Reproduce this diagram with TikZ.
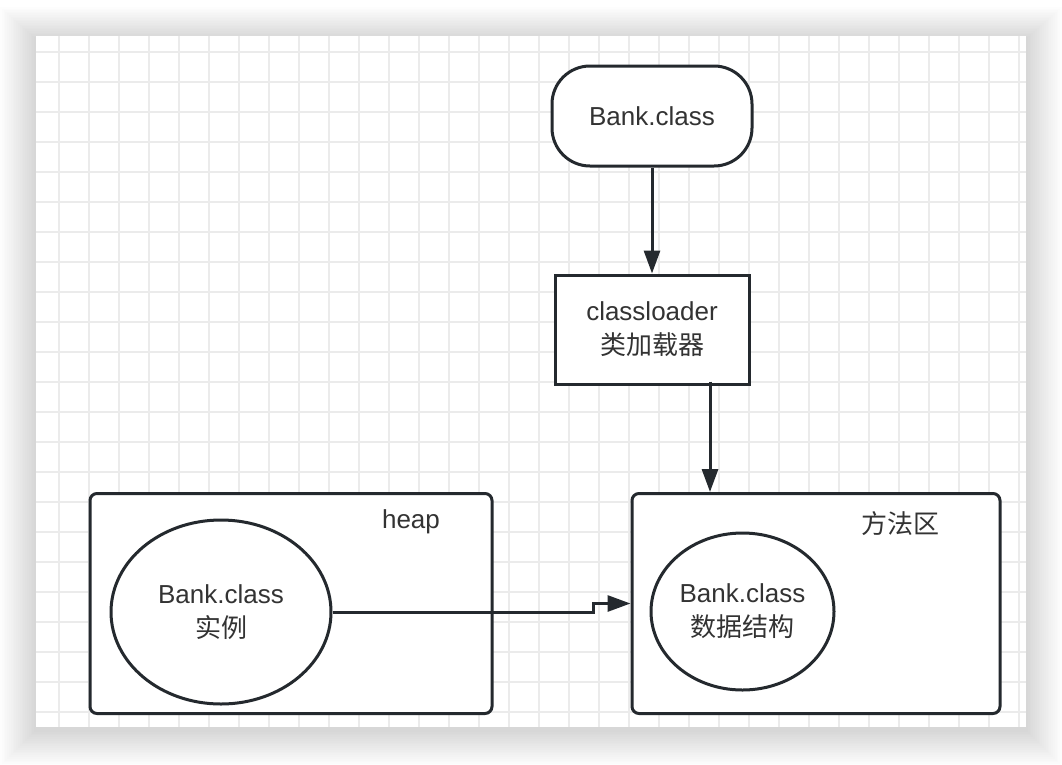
\documentclass[tikz,border=0pt]{standalone}
\usepackage{fontspec}
\setmainfont{Liberation Sans}
\newfontfamily\cjk{Noto Sans CJK SC}
\usetikzlibrary{arrows.meta, positioning, shapes.geometric, calc}
\definecolor{cink}{HTML}{24292E}
\definecolor{ctext}{HTML}{333333}
\definecolor{cgrid}{HTML}{EBEBEB}
\tikzset{
  every picture/.style={line width=3pt},
  shape base/.style={draw=cink, fill=white, align=center, text=ctext, font=\fontsize{26}{34}\selectfont},
  term/.style={shape base, rounded corners=38pt, minimum width=200pt, minimum height=100pt},
  proc/.style={shape base, minimum width=194pt, minimum height=109pt},
  area/.style={draw=cink, fill=white, rounded corners=7pt, minimum height=220pt},
  blob/.style={shape base, ellipse, inner sep=0pt},
  label/.style={text=ctext, font=\fontsize{26}{30}\selectfont},
  arrow/.style={-{Triangle[length=23pt, width=16pt]}, draw=cink, line width=3pt},
  gridline/.style={draw=cgrid, line width=2pt},
}

\begin{document}
\begin{tikzpicture}[x=1pt, y=-1pt]
  \useasboundingbox (0,0) rectangle (1062,764);
  % soft shadow round the sheet
  \foreach \s in {1,...,20} {
    \fill[black, opacity=0.009] (36-1.8*\s,36-1.6*\s+3) rectangle (1026+1.8*\s,727+1.8*\s+3);
  }
  \fill[white] (36,36) rectangle (1026,727);
  \foreach \gx in {59,89,...,1025} \draw[gridline] (\gx,36) -- (\gx,727);
  \foreach \gy in {52,82,...,712} \draw[gridline] (36,\gy) -- (1026,\gy);

  \node[term] (src) at (652,116) {Bank.class};
  \node[proc] (loader) at (652,329.5) {classloader\\{\cjk 类加载器}};
  \draw[arrow] (src) -- (loader);

  \node[area, minimum width=402pt] (heap) at (291,603.5) {};
  \node[label] (heaplbl) at (411,522) {heap};
  \node[area, minimum width=368pt] (method) at (816,603.5) {};
  \node[label] (methodlbl) at (900,524) {\cjk 方法区};

  \node[blob, minimum width=220pt, minimum height=184pt] (inst) at (221,612) {Bank.class\\{\cjk 实例}};
  \node[blob, minimum width=183pt, minimum height=157pt] (meta) at (742.5,611.5) {Bank.class\\{\cjk 数据结构}};

  \draw[arrow] ([xshift=58pt, yshift=4pt]loader.south) -- ([xshift=58pt]loader.south |- method.north);
  \coordinate (jog) at (593,612);
  \draw[arrow] (inst.east) -- (jog) |- (method.west);
\end{tikzpicture}
\end{document}
